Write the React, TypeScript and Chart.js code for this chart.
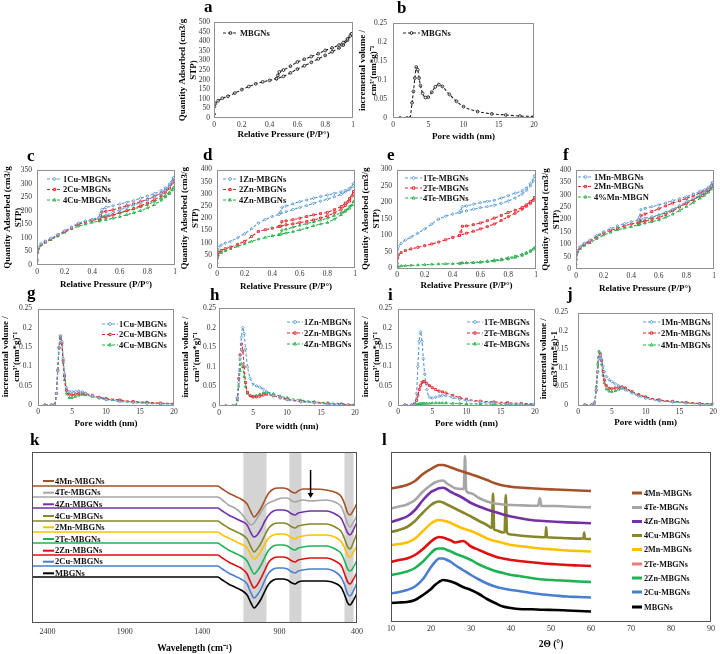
import React, { useEffect, useRef } from 'react';
import { Chart, registerables } from 'chart.js';

Chart.register(...registerables);

const SERIF = '"Liberation Serif", "Times New Roman", Times, serif';

// ===== N2 sorption isotherms: relative pressure (P/P°) vs quantity adsorbed (cm3/g STP) =====
const relPressureAds = [0, 0.003, 0.01, 0.03, 0.06, 0.1, 0.15, 0.2, 0.25, 0.3, 0.35, 0.4, 0.45, 0.5, 0.55, 0.6, 0.65, 0.7, 0.75, 0.8, 0.85, 0.9, 0.93, 0.96, 0.98, 0.99];
const relPressureDes = [0.99, 0.96, 0.93, 0.9, 0.85, 0.8, 0.75, 0.7, 0.65, 0.6, 0.55, 0.5, 0.47, 0.46, 0.45];

const isoMBGNsAds = [20, 60, 76, 90, 103, 113, 130, 148, 164, 178, 188, 196, 205, 217, 235, 255, 272, 290, 308, 326, 345, 365, 380, 405, 428, 438];
const isoMBGNsDes = [438, 412, 393, 380, 365, 352, 335, 320, 306, 292, 270, 250, 240, 222, 205];

const iso1CuAds = [20, 50, 65, 78, 88, 98, 112, 126, 140, 154, 162, 168, 176, 184, 193, 203, 212, 221, 230, 240, 251, 264, 275, 290, 308, 322];
const iso1CuDes = [322, 298, 284, 274, 263, 254, 246, 237, 231, 225, 218, 212, 205, 190, 176];
const iso2CuAds = [18, 48, 63, 76, 86, 96, 110, 124, 138, 150, 158, 165, 170, 176, 184, 192, 200, 208, 218, 228, 240, 255, 268, 283, 302, 316];
const iso2CuDes = [316, 290, 276, 265, 253, 242, 233, 225, 218, 210, 203, 198, 195, 182, 170];
const iso4CuAds = [15, 45, 60, 73, 83, 93, 106, 120, 133, 143, 150, 157, 162, 167, 172, 178, 185, 192, 200, 210, 222, 238, 250, 263, 276, 285];
const iso4CuDes = [285, 268, 256, 247, 234, 222, 214, 206, 199, 192, 186, 181, 177, 166, 162];

const iso1ZnAds = [45, 68, 80, 90, 98, 105, 120, 136, 157, 180, 195, 207, 216, 227, 236, 244, 252, 261, 270, 278, 288, 298, 308, 318, 330, 342];
const iso1ZnDes = [342, 322, 314, 309, 302, 295, 289, 282, 275, 268, 259, 250, 243, 225, 216];
const iso2ZnAds = [35, 50, 60, 68, 75, 82, 93, 105, 125, 146, 153, 159, 166, 173, 177, 182, 187, 193, 201, 210, 222, 237, 252, 270, 292, 309];
const iso2ZnDes = [309, 280, 262, 248, 235, 224, 219, 214, 207, 200, 194, 189, 186, 168, 166];
const iso4ZnAds = [18, 38, 48, 58, 66, 75, 85, 95, 105, 114, 121, 128, 132, 139, 145, 152, 160, 169, 176, 182, 196, 214, 228, 240, 255, 268];
const iso4ZnDes = [268, 248, 232, 223, 211, 200, 192, 185, 178, 171, 163, 155, 151, 134, 132];

const iso1TeAds = [40, 55, 65, 75, 85, 94, 106, 119, 134, 149, 158, 164, 169, 174, 179, 184, 187, 191, 197, 204, 213, 225, 236, 250, 265, 280];
const iso1TeDes = [280, 257, 243, 235, 228, 220, 213, 206, 203, 199, 194, 189, 187, 175, 169];
const iso2TeAds = [15, 30, 40, 47, 53, 58, 63, 68, 73, 79, 86, 93, 99, 106, 112, 119, 126, 134, 145, 156, 167, 179, 188, 197, 206, 214];
const iso2TeDes = [214, 202, 192, 184, 176, 169, 160, 152, 144, 137, 132, 128, 127, 110, 99];
const iso4TeAds = [2, 4, 5, 6, 7, 8, 9, 10, 11, 12, 12.5, 13, 14, 15, 16, 17, 19, 21, 24, 27, 32, 38, 44, 50, 57, 62];
const iso4TeDes = [62, 53, 47, 42, 36, 31, 27, 24, 21, 19, 17, 16, 15.5, 14.5, 14];

const iso1MnAds = [40, 62, 75, 90, 104, 116, 135, 151, 163, 174, 183, 191, 198, 205, 211, 218, 229, 241, 256, 272, 285, 299, 310, 322, 336, 350];
const iso1MnDes = [350, 330, 320, 314, 303, 292, 284, 276, 267, 259, 252, 245, 240, 210, 198];
const iso2MnAds = [38, 60, 72, 87, 100, 112, 130, 145, 156, 164, 174, 182, 187, 193, 200, 207, 220, 235, 250, 265, 280, 295, 306, 318, 332, 345];
const iso2MnDes = [345, 325, 315, 308, 296, 285, 276, 266, 255, 243, 232, 222, 215, 195, 187];
const iso4MnAds = [20, 55, 68, 82, 95, 106, 122, 137, 148, 158, 165, 171, 178, 185, 191, 198, 209, 221, 236, 252, 268, 286, 297, 310, 323, 333];
const iso4MnDes = [333, 318, 305, 295, 281, 268, 253, 238, 228, 218, 207, 198, 194, 180, 178];

// ===== Pore size distributions: pore width (nm) vs incremental volume =====
const poreWidth = [1, 2, 2.4, 2.7, 2.9, 3.1, 3.3, 3.5, 3.7, 3.9, 4.2, 4.6, 5.0, 5.5, 6.0, 6.5, 7.0, 8, 9, 10, 12, 14, 16, 18, 20];
const psdMBGNs = [0, 0, 0, 0.04, 0.07, 0.105, 0.134, 0.127, 0.105, 0.085, 0.065, 0.054, 0.055, 0.068, 0.082, 0.088, 0.083, 0.062, 0.044, 0.03, 0.017, 0.011, 0.008, 0.005, 0.004];
const psd1Cu = [0, 0, 0, 0.03, 0.09, 0.15, 0.18, 0.165, 0.12, 0.08, 0.045, 0.035, 0.034, 0.035, 0.036, 0.034, 0.03, 0.024, 0.018, 0.014, 0.009, 0.006, 0.004, 0.003, 0.002];
const psd2Cu = [0, 0, 0, 0.03, 0.09, 0.148, 0.177, 0.16, 0.115, 0.075, 0.038, 0.028, 0.026, 0.028, 0.03, 0.031, 0.029, 0.025, 0.02, 0.017, 0.013, 0.009, 0.007, 0.005, 0.004];
const psd4Cu = [0, 0, 0, 0.03, 0.09, 0.15, 0.177, 0.16, 0.11, 0.065, 0.03, 0.019, 0.019, 0.022, 0.025, 0.027, 0.026, 0.022, 0.018, 0.015, 0.011, 0.008, 0.006, 0.004, 0.003];
const psd1Zn = [0, 0, 0, 0.02, 0.06, 0.12, 0.175, 0.2, 0.185, 0.145, 0.1, 0.07, 0.056, 0.051, 0.048, 0.043, 0.036, 0.027, 0.021, 0.016, 0.011, 0.008, 0.005, 0.003, 0.002];
const psd2Zn = [0, 0, 0, 0.02, 0.07, 0.13, 0.158, 0.14, 0.1, 0.06, 0.035, 0.026, 0.023, 0.023, 0.025, 0.028, 0.03, 0.026, 0.021, 0.017, 0.012, 0.009, 0.006, 0.004, 0.003];
const psd4Zn = [0, 0, 0, 0.015, 0.05, 0.09, 0.108, 0.1, 0.075, 0.05, 0.032, 0.026, 0.025, 0.027, 0.03, 0.033, 0.035, 0.031, 0.025, 0.021, 0.015, 0.011, 0.008, 0.006, 0.004];
const psd1Te = [0, 0, 0, 0.03, 0.1, 0.165, 0.19, 0.165, 0.12, 0.08, 0.04, 0.02, 0.018, 0.02, 0.023, 0.025, 0.024, 0.019, 0.015, 0.012, 0.008, 0.005, 0.003, 0.002, 0.001];
const psd2Te = [0, 0, 0.003, 0.012, 0.025, 0.04, 0.05, 0.058, 0.061, 0.06, 0.056, 0.05, 0.045, 0.04, 0.036, 0.034, 0.031, 0.025, 0.019, 0.015, 0.01, 0.008, 0.006, 0.004, 0.003];
const psd4Te = [0, 0, 0, 0.001, 0.002, 0.003, 0.003, 0.004, 0.004, 0.004, 0.004, 0.004, 0.005, 0.005, 0.005, 0.005, 0.005, 0.004, 0.004, 0.003, 0.003, 0.002, 0.002, 0.001, 0.001];
const psd1Mn = [0, 0, 0.005, 0.04, 0.09, 0.125, 0.135, 0.125, 0.105, 0.09, 0.077, 0.068, 0.063, 0.057, 0.052, 0.046, 0.041, 0.032, 0.024, 0.018, 0.011, 0.008, 0.005, 0.003, 0.002];
const psd2Mn = [0, 0, 0.005, 0.04, 0.09, 0.128, 0.137, 0.12, 0.09, 0.068, 0.052, 0.045, 0.044, 0.046, 0.048, 0.049, 0.046, 0.036, 0.028, 0.022, 0.014, 0.01, 0.007, 0.004, 0.003];
const psd4Mn = [0, 0, 0.005, 0.05, 0.11, 0.145, 0.14, 0.11, 0.08, 0.06, 0.043, 0.037, 0.036, 0.038, 0.042, 0.045, 0.044, 0.035, 0.027, 0.021, 0.013, 0.009, 0.007, 0.004, 0.003];

// ===== FTIR (offset spectra, arbitrary units) =====
const ftirWavenumber = [2500, 1300, 1270, 1230, 1190, 1150, 1110, 1085, 1065, 1045, 1020, 995, 970, 940, 910, 880, 850, 820, 800, 780, 750, 700, 600, 530, 500, 480, 460, 445, 430, 415, 400];
const ftirTicks = [2400, 1900, 1400, 900, 400];
const ftirMBGNs = [46, 46, 43, 39, 36, 33, 28, 20, 15, 18, 24, 32, 39, 43, 44, 44, 43, 40, 39, 41, 42, 42, 42, 39, 35, 28, 20, 18, 21, 25, 30];
const ftir2Cu = [57, 57, 54, 50, 47, 44, 39, 30, 25, 28, 34, 43, 50, 54, 55, 55, 54, 51, 50, 52, 53, 54, 54, 50, 45, 38, 29, 27, 30, 35, 40];
const ftir2Zn = [68, 68, 65, 61, 58, 55, 49, 40, 35, 38, 45, 53, 61, 65, 66, 66, 65, 62, 61, 63, 64, 65, 65, 61, 57, 49, 41, 39, 42, 46, 51];
const ftir2Te = [80, 80, 77, 73, 70, 67, 62, 54, 49, 52, 58, 66, 73, 77, 78, 78, 77, 74, 73, 75, 76, 77, 77, 73, 69, 62, 54, 52, 54, 58, 63];
const ftir2Mn = [91, 91, 88, 85, 82, 79, 75, 68, 64, 66, 72, 79, 85, 88, 89, 89, 88, 85, 84, 86, 87, 88, 88, 85, 81, 75, 68, 66, 69, 73, 78];
const ftir4Cu = [102, 102, 99, 95, 92, 89, 84, 76, 71, 74, 80, 88, 95, 99, 100, 100, 99, 96, 95, 97, 98, 99, 99, 95, 91, 84, 76, 74, 78, 84, 90];
const ftir4Zn = [115, 115, 112, 108, 105, 102, 98, 90, 86, 88, 94, 102, 108, 112, 113, 113, 112, 109, 108, 110, 111, 112, 112, 108, 104, 97, 90, 88, 91, 96, 101];
const ftir4Te = [126, 126, 123, 118, 115, 110, 102, 98, 100, 105, 111, 117, 120, 122, 124, 125, 125, 122, 121, 122, 123, 122, 123, 120, 116, 108, 99, 96, 99, 103, 108];
const ftir4Mn = [137, 137, 134, 130, 127, 124, 119, 111, 106, 109, 115, 123, 130, 134, 135, 135, 134, 131, 130, 132, 134, 134, 133, 130, 126, 119, 110, 108, 111, 115, 120];
const ftirBands = [[1134, 985], [837, 759], [481, 422]];
const ftirArrow = { wavenumber: 700, from: 153, to: 125 };

// ===== XRD (offset patterns, arbitrary units) =====
const xrdTheta = [10, 12, 14, 16, 18, 20, 21, 22, 23, 24, 25, 26, 28, 30, 32, 34, 36, 38, 40, 42, 45, 48, 51, 54, 57, 60];
const xrdMBGNs = [19, 19.5, 20, 22, 27, 33, 37, 40, 42, 41.5, 40.5, 39, 35, 32, 28, 23, 19, 15.5, 14, 13, 12.7, 12.2, 12, 11.5, 11, 10.5];
const xrd2Cu = [28.5, 30, 32, 35.5, 43, 55, 60, 63.5, 63.5, 62, 60, 57, 52, 47, 42.5, 38.5, 35.5, 33.5, 32, 31, 29, 27.5, 26.5, 25.5, 25, 24.5];
const xrd2Zn = [47, 48.5, 50.5, 54, 60.5, 69, 72.5, 73.5, 73.5, 72, 70.5, 68.5, 65.5, 62, 57.5, 54, 51, 49, 47, 46, 44, 42.5, 41.8, 41.2, 40.5, 40];
const xrd2Te = [60, 62, 63.5, 67, 73, 80.5, 83.5, 85, 84.5, 83, 81.5, 79.5, 81, 75.5, 72, 68.5, 65.5, 63.5, 62, 61, 59.7, 58.5, 57.7, 57, 56.5, 56];
const xrd2Mn = [77, 78, 79.5, 83.5, 91, 98.5, 101, 102, 101.5, 100.5, 99, 97, 93.5, 91, 87.5, 83.5, 81, 79, 77, 76, 74.5, 73.3, 72.5, 71.5, 71, 70.5];
const xrd4Cu = [90, 92, 95, 101, 109.5, 117, 119.5, 120.5, 119.5, 117.5, 115.5, 113.5, 109.5, 105.5, 101, 97, 92, 89.5, 87.5, 86.5, 85.5, 84.8, 84.3, 83.8, 83.4, 83];
const xrd4Zn = [100, 102.5, 105.5, 112, 122, 130, 132, 133.7, 134.3, 132.5, 130, 128, 124, 119, 115.5, 112.5, 110, 107.5, 105.5, 104, 102, 101, 100.2, 99.6, 99.2, 98.8];
const xrd4Te = [113.5, 115.5, 117.5, 122, 130.5, 137, 139.5, 141, 141.5, 138.5, 136, 133.7, 133, 128.7, 124, 120.5, 118.5, 117.5, 117, 116.7, 116.3, 116, 116, 115.5, 115, 114.7];
const xrd4Mn = [133.5, 135, 137, 141, 148, 153, 155.3, 157, 157, 156, 154.5, 153, 150.3, 147.7, 145, 142, 138.7, 136.5, 135.3, 134.5, 133.7, 133, 132.5, 132, 131.5, 131];
const xrd4TePeakTheta = [28.2, 28.5, 28.8, 46.8, 47.2, 47.6];
const xrd4TePeakValue = [133, 166, 131, 116.2, 124, 116.1];
const xrd4CuPeakTheta = [35.2, 35.5, 35.8, 38.4, 38.7, 39.0, 48.6, 48.8, 49.0, 58.1, 58.3, 58.5];
const xrd4CuPeakValue = [94, 128.5, 92.5, 89.8, 127, 89, 85, 95, 84.7, 83.5, 89.5, 83.3];

// ===== styling =====
const BLUE = '#5b9bd5';
const RED = '#e3262d';
const GREEN = '#27ae4a';
const BLACK = '#222222';

type Box = { cl: number; ct: number; cr: number; cb: number; pl: number; pt: number; pr: number; pb: number };
type LegendItem = { text: string; color: string; y: number; marker?: string; dash?: number[]; lw?: number };
type LegendSpec = { x1: number; x2: number; tx: number; size: number; items: LegendItem[] };

const fmtNum = (v: any) => String(parseFloat(Number(v).toFixed(3)));

function drawMarker(ctx: CanvasRenderingContext2D, style: string, x: number, y: number, r: number, stroke: string) {
  ctx.save();
  ctx.beginPath();
  if (style === 'circle') ctx.arc(x, y, r, 0, Math.PI * 2);
  else if (style === 'rectRot') { ctx.moveTo(x, y - r - 0.4); ctx.lineTo(x + r + 0.4, y); ctx.lineTo(x, y + r + 0.4); ctx.lineTo(x - r - 0.4, y); ctx.closePath(); }
  else if (style === 'triangle') { ctx.moveTo(x, y - r - 0.4); ctx.lineTo(x + r, y + r * 0.7); ctx.lineTo(x - r, y + r * 0.7); ctx.closePath(); }
  else ctx.rect(x - r * 0.8, y - r * 0.8, r * 1.6, r * 1.6);
  ctx.fillStyle = 'rgba(255,255,255,0.6)';
  ctx.fill();
  ctx.strokeStyle = stroke;
  ctx.lineWidth = 1;
  ctx.stroke();
  ctx.restore();
}

function drawLegend(ctx: CanvasRenderingContext2D, box: Box, L: LegendSpec) {
  ctx.save();
  ctx.font = `bold ${L.size}px ${SERIF}`;
  ctx.textBaseline = 'middle';
  ctx.textAlign = 'left';
  for (const it of L.items) {
    const y = it.y - box.ct;
    const x1 = L.x1 - box.cl;
    const x2 = L.x2 - box.cl;
    ctx.strokeStyle = it.color;
    ctx.lineWidth = it.lw || 1;
    ctx.setLineDash(it.dash || []);
    ctx.beginPath();
    ctx.moveTo(x1, y);
    ctx.lineTo(x2, y);
    ctx.stroke();
    ctx.setLineDash([]);
    if (it.marker) drawMarker(ctx, it.marker, (x1 + x2) / 2, y, 1.4, it.color);
    ctx.fillStyle = '#111';
    ctx.fillText(it.text, L.tx - box.cl, y + 0.5);
  }
  ctx.restore();
}

function decoPlugin(box: Box, o: { frame: string; legend?: LegendSpec; before?: (c: any) => void; after?: (c: any) => void }) {
  return {
    id: 'deco',
    beforeDatasetsDraw(chart: any) {
      if (o.before) o.before(chart);
    },
    afterDatasetsDraw(chart: any) {
      const ctx = chart.ctx;
      const a = chart.chartArea;
      ctx.save();
      ctx.strokeStyle = o.frame;
      ctx.lineWidth = 1;
      ctx.strokeRect(Math.round(a.left) + 0.5, Math.round(a.top) + 0.5, Math.round(a.right - a.left) - 1, Math.round(a.bottom - a.top) - 1);
      ctx.restore();
      if (o.after) o.after(chart);
      if (o.legend) drawLegend(ctx, box, o.legend);
    },
  };
}

function isoDataset(label: string, color: string, marker: string, ads: number[], des: number[]) {
  const pts = [
    ...ads.map((q, i) => ({ x: relPressureAds[i], y: q })),
    ...des.map((q, i) => ({ x: relPressureDes[i], y: q })),
  ];
  return {
    label, data: pts, showLine: true, borderColor: color, backgroundColor: color, borderWidth: 1.1, borderDash: [3, 2],
    pointStyle: marker, pointRadius: 1.4, pointBorderWidth: 0.9, pointBackgroundColor: 'rgba(255,255,255,0.5)', pointBorderColor: color, tension: 0,
  };
}

function psdDataset(label: string, color: string, marker: string, vals: number[]) {
  return {
    label, data: vals.map((v, i) => ({ x: poreWidth[i], y: v })), showLine: true, borderColor: color, backgroundColor: color,
    borderWidth: 1.1, borderDash: [3, 2], pointStyle: marker, pointRadius: 1.4, pointBorderWidth: 0.9,
    pointBackgroundColor: 'rgba(255,255,255,0.5)', pointBorderColor: color, cubicInterpolationMode: 'monotone',
  };
}

function smallConfig(box: Box, s: any) {
  const tickFont = { family: SERIF, size: 7.5 };
  const titleFont = { family: SERIF, size: 9, weight: 'bold', lineHeight: 1.2 };
  return {
    type: 'scatter',
    data: { datasets: s.datasets },
    options: {
      responsive: false, animation: false, devicePixelRatio: 1, events: [],
      layout: { padding: { left: 0, top: box.pt - box.ct, right: box.cr - box.pr, bottom: 0 } },
      plugins: { legend: { display: false }, tooltip: { enabled: false } },
      scales: {
        x: {
          type: 'linear', min: s.xMin, max: s.xMax,
          ticks: { stepSize: s.xStep, autoSkip: false, maxRotation: 0, font: tickFont, color: '#333', padding: 3, callback: fmtNum },
          grid: { display: false, drawTicks: false }, border: { display: false },
          title: { display: true, text: s.xTitle, font: titleFont, color: '#000', padding: 0 },
          afterFit: (sc: any) => { sc.height = box.cb - box.pb; },
        },
        y: {
          type: 'linear', min: 0, max: s.yMax,
          ticks: { stepSize: s.yStep, autoSkip: false, font: tickFont, color: '#333', padding: s.yPad, callback: fmtNum },
          grid: { display: false, drawTicks: false }, border: { display: false },
          title: { display: true, text: s.yTitle, font: titleFont, color: '#000', padding: 0 },
          afterFit: (sc: any) => { sc.width = box.pl - box.cl; },
        },
      },
    },
    plugins: [decoPlugin(box, { frame: '#8f8f8f', legend: s.legend })],
  };
}

const ISO_Y = ['Quantity Adsorbed (cm3/g', 'STP)'];
const PSD_Y = ['incremental volume /', "cm³'(nm*g)⁻¹"];
const REL_P = 'Relative Pressure (P/P°)';
const PORE_W = 'Pore width (nm)';

function legend3(x1: number, x2: number, tx: number, ys: number[], names: string[]): LegendSpec {
  const colors = [BLUE, RED, GREEN];
  const markers = ['rectRot', 'rect', 'triangle'];
  return { x1, x2, tx, size: 8.5, items: names.map((t, i) => ({ text: t, color: colors[i], y: ys[i], marker: markers[i], dash: [3, 2] })) };
}

// ----- panel factories -----
const panelA = (box: Box) => smallConfig(box, {
  xMin: 0, xMax: 1, xStep: 0.2, yMax: 500, yStep: 50, xTitle: REL_P, yTitle: ISO_Y, yPad: 4,
  datasets: [isoDataset('MBGNs', BLACK, 'circle', isoMBGNsAds, isoMBGNsDes)],
  legend: { x1: 223, x2: 238, tx: 240, size: 8.5, items: [{ text: 'MBGNs', color: BLACK, y: 33, marker: 'circle', dash: [3, 2] }] },
});
const panelB = (box: Box) => smallConfig(box, {
  xMin: 0, xMax: 20, xStep: 5, yMax: 0.25, yStep: 0.05, xTitle: PORE_W, yTitle: PSD_Y, yPad: 6,
  datasets: [psdDataset('MBGNs', BLACK, 'circle', psdMBGNs)],
  legend: { x1: 403, x2: 420, tx: 421, size: 8.5, items: [{ text: 'MBGNs', color: BLACK, y: 33, marker: 'circle', dash: [3, 2] }] },
});
const panelC = (box: Box) => smallConfig(box, {
  xMin: 0, xMax: 1, xStep: 0.2, yMax: 350, yStep: 50, xTitle: REL_P, yTitle: ISO_Y, yPad: 5,
  datasets: [isoDataset('1Cu-MBGNs', BLUE, 'rectRot', iso1CuAds, iso1CuDes), isoDataset('2Cu-MBGNs', RED, 'rect', iso2CuAds, iso2CuDes), isoDataset('4Cu-MBGNs', GREEN, 'triangle', iso4CuAds, iso4CuDes)],
  legend: legend3(47, 62, 63, [179, 189.5, 200], ['1Cu-MBGNs', '2Cu-MBGNs', '4Cu-MBGNs']),
});
const panelD = (box: Box) => smallConfig(box, {
  xMin: 0, xMax: 1, xStep: 0.2, yMax: 400, yStep: 50, xTitle: REL_P, yTitle: ISO_Y, yPad: 5,
  datasets: [isoDataset('1Zn-MBGNs', BLUE, 'rectRot', iso1ZnAds, iso1ZnDes), isoDataset('2Zn-MBGNs', RED, 'rect', iso2ZnAds, iso2ZnDes), isoDataset('4Zn-MBGNs', GREEN, 'triangle', iso4ZnAds, iso4ZnDes)],
  legend: legend3(223, 237, 239, [179, 189.5, 200], ['1Zn-MBGNs', '2Zn-MBGNs', '4Zn-MBGNs']),
});
const panelE = (box: Box) => smallConfig(box, {
  xMin: 0, xMax: 1, xStep: 0.2, yMax: 300, yStep: 50, xTitle: REL_P, yTitle: ISO_Y, yPad: 5,
  datasets: [isoDataset('1Te-MBGNs', BLUE, 'rectRot', iso1TeAds, iso1TeDes), isoDataset('2Te-MBGNs', RED, 'rect', iso2TeAds, iso2TeDes), isoDataset('4Te-MBGNs', GREEN, 'triangle', iso4TeAds, iso4TeDes)],
  legend: legend3(405, 422, 423, [178, 188, 198], ['1Te-MBGNs', '2Te-MBGNs', '4Te-MBGNs']),
});
const panelF = (box: Box) => smallConfig(box, {
  xMin: 0, xMax: 1, xStep: 0.2, yMax: 400, yStep: 50, xTitle: REL_P, yTitle: ISO_Y, yPad: 5,
  datasets: [isoDataset('1Mn-MBGNs', BLUE, 'rectRot', iso1MnAds, iso1MnDes), isoDataset('2Mn-MBGNs', RED, 'rect', iso2MnAds, iso2MnDes), isoDataset('4%Mn-MBGN', GREEN, 'triangle', iso4MnAds, iso4MnDes)],
  legend: legend3(578, 593, 594, [177, 186.5, 197], ['1Mn-MBGNs', '2Mn-MBGNs', '4%Mn-MBGN']),
});
const panelG = (box: Box) => smallConfig(box, {
  xMin: 0, xMax: 20, xStep: 5, yMax: 0.25, yStep: 0.05, xTitle: PORE_W, yTitle: PSD_Y, yPad: 6,
  datasets: [psdDataset('1Cu-MBGNs', BLUE, 'rectRot', psd1Cu), psdDataset('2Cu-MBGNs', RED, 'rect', psd2Cu), psdDataset('4Cu-MBGNs', GREEN, 'triangle', psd4Cu)],
  legend: legend3(102, 118, 119, [324, 334.5, 345], ['1Cu-MBGNs', '2Cu-MBGNs', '4Cu-MBGNs']),
});
const panelH = (box: Box) => smallConfig(box, {
  xMin: 0, xMax: 20, xStep: 5, yMax: 0.25, yStep: 0.05, xTitle: PORE_W, yTitle: PSD_Y, yPad: 3,
  datasets: [psdDataset('1Zn-MBGNs', BLUE, 'rectRot', psd1Zn), psdDataset('2Zn-MBGNs', RED, 'rect', psd2Zn), psdDataset('4Zn-MBGNs', GREEN, 'triangle', psd4Zn)],
  legend: legend3(287, 303, 304, [322, 333, 344], ['1Zn-MBGNs', '2Zn-MBGNs', '4Zn-MBGNs']),
});
const panelI = (box: Box) => smallConfig(box, {
  xMin: 0, xMax: 20, xStep: 5, yMax: 0.25, yStep: 0.05, xTitle: PORE_W, yTitle: PSD_Y, yPad: 6,
  datasets: [psdDataset('1Te-MBGNs', BLUE, 'rectRot', psd1Te), psdDataset('2Te-MBGNs', RED, 'rect', psd2Te), psdDataset('4Te-MBGNs', GREEN, 'triangle', psd4Te)],
  legend: legend3(467, 483, 484, [322, 333, 344], ['1Te-MBGNs', '2Te-MBGNs', '4Te-MBGNs']),
});
const panelJ = (box: Box) => smallConfig(box, {
  xMin: 0, xMax: 20, xStep: 5, yMax: 0.25, yStep: 0.05, xTitle: PORE_W, yTitle: ['incremental volume /', 'cm3*(nm*g)-1'], yPad: 10,
  datasets: [psdDataset('1Mn-MBGNs', BLUE, 'rectRot', psd1Mn), psdDataset('2Mn-MBGNs', RED, 'rect', psd2Mn), psdDataset('4Mn-MBGNs', GREEN, 'triangle', psd4Mn)],
  legend: legend3(643, 660, 661, [322, 333, 345], ['1Mn-MBGNs', '2Mn-MBGNs', '4Mn-MBGNs']),
});

const ftirSeries = [
  { name: '4Mn-MBGNs', color: '#a5522a', values: ftir4Mn, ly: 481 },
  { name: '4Te-MBGNs', color: '#a6a6a6', values: ftir4Te, ly: 492.7 },
  { name: '4Zn-MBGNs', color: '#7232a6', values: ftir4Zn, ly: 504.3 },
  { name: '4Cu-MBGNs', color: '#86862a', values: ftir4Cu, ly: 516 },
  { name: '2Mn-MBGNs', color: '#ffc000', values: ftir2Mn, ly: 527.3 },
  { name: '2Te-MBGNs', color: '#1fb356', values: ftir2Te, ly: 539 },
  { name: '2Zn-MBGNs', color: '#e01010', values: ftir2Zn, ly: 550.7 },
  { name: '2Cu-MBGNs', color: '#4a7fd0', values: ftir2Cu, ly: 561.7 },
  { name: 'MBGNs', color: '#000000', values: ftirMBGNs, ly: 573.3 },
];

const xrdSeries = [
  { name: '4Mn-MBGNs', color: '#a5522a', lc: '#a5522a', values: xrd4Mn, pt: null as any, pv: null as any, ly: 493 },
  { name: '4Te-MBGNs', color: '#a6a6a6', lc: '#a6a6a6', values: xrd4Te, pt: xrd4TePeakTheta, pv: xrd4TePeakValue, ly: 507.5 },
  { name: '4Zn-MBGNs', color: '#7232a6', lc: '#7232a6', values: xrd4Zn, pt: null, pv: null, ly: 521.5 },
  { name: '4Cu-MBGNs', color: '#86862a', lc: '#86862a', values: xrd4Cu, pt: xrd4CuPeakTheta, pv: xrd4CuPeakValue, ly: 535.5 },
  { name: '2Mn-MBGNs', color: '#ffc000', lc: '#ffc000', values: xrd2Mn, pt: null, pv: null, ly: 549.5 },
  { name: '2Te-MBGNs', color: '#e01010', lc: '#f07a7a', values: xrd2Te, pt: null, pv: null, ly: 564 },
  { name: '2Zn-MBGNs', color: '#1fb356', lc: '#1fb356', values: xrd2Zn, pt: null, pv: null, ly: 578 },
  { name: '2Cu-MBGNs', color: '#4a7fd0', lc: '#4a7fd0', values: xrd2Cu, pt: null, pv: null, ly: 592 },
  { name: 'MBGNs', color: '#000000', lc: '#000000', values: xrdMBGNs, pt: null, pv: null, ly: 607 },
];

const panelK = (box: Box) => ({
  type: 'scatter',
  data: {
    datasets: ftirSeries.map((s) => ({
      label: s.name, data: s.values.map((v, i) => ({ x: ftirWavenumber[i], y: v })), showLine: true,
      borderColor: s.color, borderWidth: 1.6, pointRadius: 0, cubicInterpolationMode: 'monotone',
    })),
  },
  options: {
    responsive: false, animation: false, devicePixelRatio: 1, events: [],
    layout: { padding: { left: 0, top: box.pt - box.ct, right: box.cr - box.pr, bottom: 0 } },
    plugins: { legend: { display: false }, tooltip: { enabled: false } },
    scales: {
      x: {
        type: 'linear', min: 400, max: 2500, reverse: true,
        afterBuildTicks: (sc: any) => { sc.ticks = ftirTicks.map((v) => ({ value: v })); },
        ticks: { autoSkip: false, maxRotation: 0, font: { family: SERIF, size: 8 }, color: '#333', padding: 4, callback: (v: any) => String(v) },
        grid: { display: false, drawTicks: false }, border: { display: false },
        title: { display: true, text: 'Wavelength (cm⁻¹)', font: { family: SERIF, size: 9.5, weight: 'bold', lineHeight: 1.2 }, color: '#000', padding: 0 },
        afterFit: (sc: any) => { sc.height = box.cb - box.pb; },
      },
      y: {
        type: 'linear', min: 0, max: 171,
        ticks: { display: false }, grid: { display: false, drawTicks: false }, border: { display: false },
        afterFit: (sc: any) => { sc.width = box.pl - box.cl; },
      },
    },
  },
  plugins: [decoPlugin(box, {
    frame: '#505050',
    legend: { x1: 43, x2: 54, tx: 55, size: 8.5, items: ftirSeries.map((s) => ({ text: s.name, color: s.color, y: s.ly, lw: 2 })) },
    before: (chart: any) => {
      const { ctx, chartArea: a, scales } = chart;
      ctx.save();
      ctx.fillStyle = '#d4d4d4';
      for (const [hi, lo] of ftirBands) {
        const x1 = scales.x.getPixelForValue(hi);
        const x2 = scales.x.getPixelForValue(lo);
        ctx.fillRect(x1, a.top, x2 - x1, a.bottom - a.top);
      }
      ctx.restore();
    },
    after: (chart: any) => {
      const { ctx, scales } = chart;
      const x = scales.x.getPixelForValue(ftirArrow.wavenumber);
      const y1 = scales.y.getPixelForValue(ftirArrow.from);
      const y2 = scales.y.getPixelForValue(ftirArrow.to);
      ctx.save();
      ctx.strokeStyle = '#000';
      ctx.fillStyle = '#000';
      ctx.lineWidth = 1.5;
      ctx.beginPath();
      ctx.moveTo(x, y1);
      ctx.lineTo(x, y2 - 4);
      ctx.stroke();
      ctx.beginPath();
      ctx.moveTo(x - 3, y2 - 5);
      ctx.lineTo(x + 3, y2 - 5);
      ctx.lineTo(x, y2);
      ctx.closePath();
      ctx.fill();
      ctx.restore();
    },
  })],
});

function xrdPoints(values: number[], pt: number[] | null, pv: number[] | null) {
  const pts = values.map((v, i) => ({ x: xrdTheta[i], y: v }));
  if (pt && pv) pt.forEach((t, i) => pts.push({ x: t, y: pv[i] }));
  return pts.sort((p, q) => p.x - q.x);
}

const panelL = (box: Box) => ({
  type: 'scatter',
  data: {
    datasets: xrdSeries.map((s) => ({
      label: s.name, data: xrdPoints(s.values, s.pt, s.pv), showLine: true,
      borderColor: s.color, borderWidth: 2.6, pointRadius: 0, cubicInterpolationMode: 'monotone',
    })),
  },
  options: {
    responsive: false, animation: false, devicePixelRatio: 1, events: [],
    layout: { padding: { left: 0, top: box.pt - box.ct, right: box.cr - box.pr, bottom: 0 } },
    plugins: { legend: { display: false }, tooltip: { enabled: false } },
    scales: {
      x: {
        type: 'linear', min: 10, max: 90,
        ticks: { stepSize: 10, autoSkip: false, maxRotation: 0, font: { family: SERIF, size: 8 }, color: '#333', padding: 2, callback: (v: any) => String(v) },
        grid: { display: false, drawTicks: false }, border: { display: false },
        title: { display: true, text: '2Θ (°)', font: { family: SERIF, size: 9.5, weight: 'bold', lineHeight: 1.2 }, color: '#000', padding: 0 },
        afterFit: (sc: any) => { sc.height = box.cb - box.pb; },
      },
      y: {
        type: 'linear', min: 0, max: 170,
        ticks: { display: false }, grid: { display: false, drawTicks: false }, border: { display: false },
        afterFit: (sc: any) => { sc.width = box.pl - box.cl; },
      },
    },
  },
  plugins: [decoPlugin(box, {
    frame: '#505050',
    legend: { x1: 632, x2: 642, tx: 644, size: 8.2, items: xrdSeries.map((s) => ({ text: s.name, color: s.lc, y: s.ly, lw: 3 })) },
  })],
});

const PANELS: { box: Box; make: (b: Box) => any }[] = [
  { box: { cl: 177, ct: 12, cr: 366, cb: 140, pl: 214, pt: 22, pr: 353, pb: 118 }, make: panelA },
  { box: { cl: 357, ct: 12, cr: 546, cb: 142, pl: 393, pt: 23, pr: 534, pb: 118 }, make: panelB },
  { box: { cl: 2, ct: 160, cr: 187, cb: 290, pl: 37, pt: 170, pr: 175, pb: 265 }, make: panelC },
  { box: { cl: 179, ct: 160, cr: 366, cb: 292, pl: 217, pt: 169, pr: 355, pb: 267 }, make: panelD },
  { box: { cl: 360, ct: 160, cr: 547, cb: 291, pl: 397, pt: 168, pr: 536, pb: 268 }, make: panelE },
  { box: { cl: 540, ct: 160, cr: 720, cb: 294, pl: 576, pt: 170, pr: 714, pb: 269 }, make: panelF },
  { box: { cl: 0, ct: 298, cr: 186, cb: 429, pl: 38, pt: 308, pr: 174, pb: 405 }, make: panelG },
  { box: { cl: 180, ct: 298, cr: 367, cb: 432, pl: 219, pt: 308, pr: 355, pb: 406 }, make: panelH },
  { box: { cl: 360, ct: 298, cr: 547, cb: 429, pl: 398, pt: 308, pr: 535, pb: 405 }, make: panelI },
  { box: { cl: 538, ct: 298, cr: 720, cb: 428, pl: 578, pt: 308, pr: 715, pb: 405 }, make: panelJ },
  { box: { cl: 20, ct: 440, cr: 372, cb: 654, pl: 32, pt: 452, pr: 357, pb: 623 }, make: panelK },
  { box: { cl: 376, ct: 440, cr: 720, cb: 650, pl: 391, pt: 452, pr: 711, pb: 622 }, make: panelL },
];

const LETTERS = [
  { t: 'a', x: 204, base: 12 }, { t: 'b', x: 397, base: 13 },
  { t: 'c', x: 27, base: 161 }, { t: 'd', x: 203, base: 160 }, { t: 'e', x: 387, base: 160 }, { t: 'f', x: 563, base: 160 },
  { t: 'g', x: 27, base: 298 }, { t: 'h', x: 210, base: 300 }, { t: 'i', x: 388, base: 300 }, { t: 'j', x: 567, base: 299 },
  { t: 'k', x: 30, base: 445 }, { t: 'l', x: 382, base: 445 },
];

function Panel({ box, make }: { box: Box; make: (b: Box) => any }) {
  const ref = useRef<HTMLCanvasElement | null>(null);
  useEffect(() => {
    if (!ref.current) return;
    const chart = new Chart(ref.current, make(box));
    return () => chart.destroy();
  }, []);
  const w = box.cr - box.cl;
  const h = box.cb - box.ct;
  return <canvas ref={ref} width={w} height={h} style={{ position: 'absolute', left: box.cl, top: box.ct, width: w, height: h }} />;
}

export default function App() {
  return (
    <div style={{ position: 'absolute', left: 0, top: 0, width: 720, height: 654, background: '#fff', overflow: 'hidden' }}>
      {PANELS.map((p, i) => <Panel key={i} box={p.box} make={p.make} />)}
      {LETTERS.map((l) => (
        <div key={l.t} style={{ position: 'absolute', left: l.x, top: l.base - 14, font: `bold 17px ${SERIF}`, lineHeight: '17px', color: '#000' }}>{l.t}</div>
      ))}
    </div>
  );
}
